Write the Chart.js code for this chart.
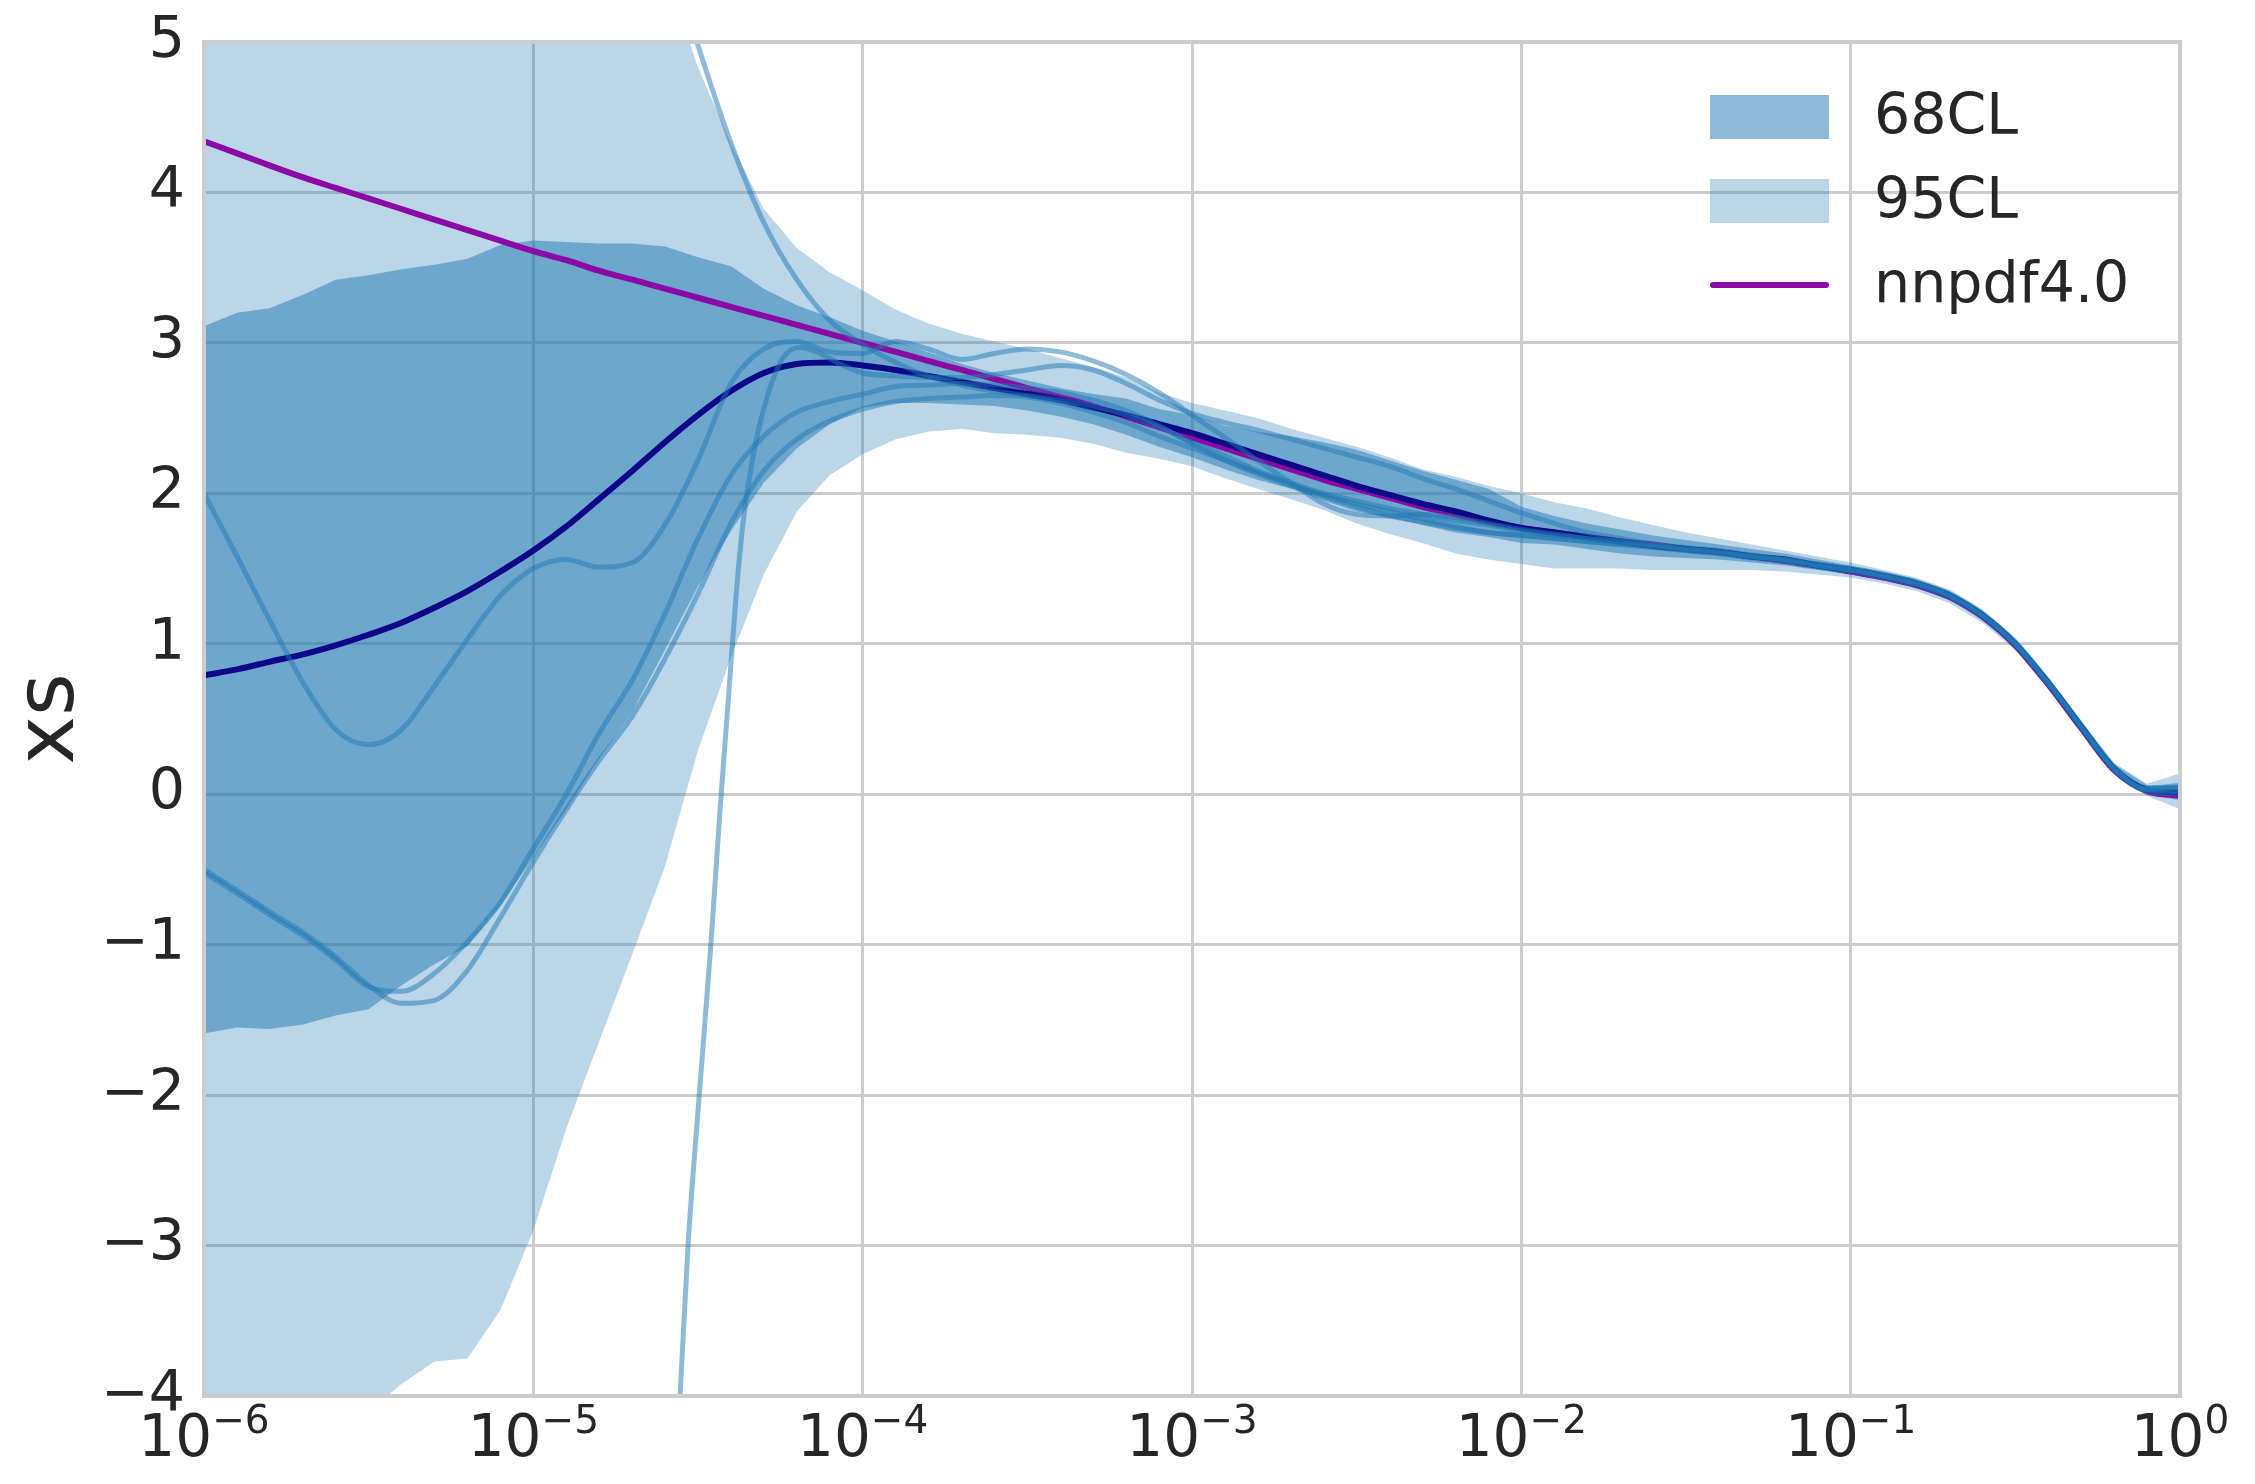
<!DOCTYPE html>
<html>
<head>
<meta charset="utf-8">
<title>xs</title>
<script src="https://cdn.jsdelivr.net/npm/chart.js@4.4.1/dist/chart.umd.min.js"></script>
<style>
  html, body { margin: 0; padding: 0; background: #ffffff; }
  canvas { display: block; }
</style>
</head>
<body>
<canvas id="xsChart" width="2255" height="1484"></canvas>
<script>
// x grid shared by the bands and the central curves (10 points per decade)
const xGrid = [
  1e-6, 1.26e-6, 1.58e-6, 2e-6, 2.51e-6, 3.16e-6, 3.98e-6, 5.01e-6, 6.31e-6, 7.94e-6,
  1e-5, 1.26e-5, 1.58e-5, 2e-5, 2.51e-5, 3.16e-5, 3.98e-5, 5.01e-5, 6.31e-5, 7.94e-5,
  1e-4, 1.26e-4, 1.58e-4, 2e-4, 2.51e-4, 3.16e-4, 3.98e-4, 5.01e-4, 6.31e-4, 7.94e-4,
  1e-3, 1.26e-3, 1.58e-3, 2e-3, 2.51e-3, 3.16e-3, 3.98e-3, 5.01e-3, 6.31e-3, 7.94e-3,
  1e-2, 1.26e-2, 1.58e-2, 2e-2, 2.51e-2, 3.16e-2, 3.98e-2, 5.01e-2, 6.31e-2, 7.94e-2,
  1e-1, 1.26e-1, 1.58e-1, 2e-1, 2.51e-1, 3.16e-1, 3.98e-1, 5.01e-1, 6.31e-1, 7.94e-1,
  1
];

const xTicks = [1e-6, 1e-5, 1e-4, 1e-3, 1e-2, 1e-1, 1];
const xTickExps = ['\u22126', '\u22125', '\u22124', '\u22123', '\u22122', '\u22121', '0'];
const yTicks = [-4, -3, -2, -1, 0, 1, 2, 3, 4, 5];

// 95% band
const upper95 = [
  5.5, 5.5, 5.5, 5.5, 5.5, 5.5, 5.5, 5.5, 5.5, 5.5,
  5.5, 5.5, 5.5, 5.5, 5.5, 4.83, 4.33, 3.89, 3.63, 3.47,
  3.35, 3.22, 3.13, 3.06, 3.01, 2.96, 2.90, 2.84, 2.77, 2.67,
  2.60, 2.55, 2.50, 2.43, 2.37, 2.31, 2.24, 2.16, 2.11, 2.05,
  2.00, 1.94, 1.90, 1.84, 1.79, 1.74, 1.70, 1.66, 1.62, 1.58,
  1.54, 1.49, 1.44, 1.36, 1.23, 1.04, 0.78, 0.49, 0.21, 0.07,
  0.14
];
const lower95 = [
  -4.6, -4.6, -4.5, -4.4, -4.3, -4.1, -3.92, -3.77, -3.75, -3.43,
  -2.90, -2.22, -1.65, -1.06, -0.48, 0.29, 0.91, 1.46, 1.88, 2.12,
  2.26, 2.36, 2.41, 2.43, 2.40, 2.39, 2.37, 2.33, 2.27, 2.23,
  2.18, 2.10, 2.03, 1.96, 1.89, 1.80, 1.73, 1.67, 1.60, 1.56,
  1.53, 1.50, 1.50, 1.50, 1.49, 1.49, 1.49, 1.49, 1.48, 1.46,
  1.44, 1.40, 1.35, 1.27, 1.14, 0.96, 0.70, 0.41, 0.13, -0.01,
  -0.10
];

// 68% band
const upper68 = [
  3.11, 3.20, 3.23, 3.32, 3.42, 3.45, 3.49, 3.52, 3.56, 3.65,
  3.68, 3.67, 3.66, 3.66, 3.64, 3.57, 3.51, 3.36, 3.25, 3.17,
  3.08, 3.01, 2.94, 2.86, 2.80, 2.75, 2.70, 2.66, 2.63, 2.56,
  2.52, 2.45, 2.41, 2.38, 2.34, 2.29, 2.22, 2.15, 2.09, 2.03,
  1.91, 1.85, 1.80, 1.76, 1.72, 1.69, 1.66, 1.63, 1.60, 1.56,
  1.52, 1.48, 1.43, 1.35, 1.22, 1.03, 0.77, 0.48, 0.20, 0.06,
  0.06
];
const lower68 = [
  -1.59, -1.55, -1.56, -1.53, -1.47, -1.43, -1.27, -1.13, -1.01, -0.74,
  -0.42, -0.10, 0.23, 0.55, 0.96, 1.38, 1.75, 2.07, 2.30, 2.46,
  2.57, 2.60, 2.60, 2.59, 2.58, 2.55, 2.51, 2.46, 2.39, 2.31,
  2.24, 2.16, 2.09, 2.03, 1.95, 1.88, 1.84, 1.79, 1.74, 1.71,
  1.67, 1.66, 1.63, 1.60, 1.58, 1.57, 1.56, 1.54, 1.52, 1.49,
  1.46, 1.42, 1.37, 1.29, 1.16, 0.97, 0.71, 0.42, 0.14, 0.00,
  -0.04
];

// reference fit
const nnpdf40 = [
  4.34, 4.26, 4.18, 4.10, 4.03, 3.96, 3.89, 3.82, 3.75, 3.68,
  3.61, 3.55, 3.48, 3.42, 3.36, 3.30, 3.24, 3.18, 3.12, 3.06,
  3.00, 2.94, 2.88, 2.82, 2.76, 2.70, 2.64, 2.58, 2.51, 2.44,
  2.37, 2.30, 2.23, 2.16, 2.09, 2.03, 1.97, 1.91, 1.86, 1.81,
  1.77, 1.74, 1.71, 1.68, 1.66, 1.63, 1.61, 1.58, 1.55, 1.52,
  1.48, 1.44, 1.39, 1.31, 1.18, 0.99, 0.73, 0.44, 0.16, 0.02,
  -0.01
];

// central value of the ensemble
const central = [
  0.79, 0.83, 0.88, 0.93, 0.99, 1.06, 1.14, 1.24, 1.35, 1.48,
  1.62, 1.78, 1.96, 2.15, 2.34, 2.52, 2.68, 2.80, 2.86, 2.87,
  2.85, 2.82, 2.78, 2.74, 2.70, 2.66, 2.62, 2.57, 2.52, 2.46,
  2.40, 2.33, 2.26, 2.19, 2.12, 2.05, 1.99, 1.93, 1.88, 1.82,
  1.77, 1.74, 1.71, 1.68, 1.65, 1.63, 1.61, 1.58, 1.56, 1.52,
  1.49, 1.45, 1.40, 1.32, 1.19, 1.00, 0.74, 0.45, 0.17, 0.03,
  0.01
];

// individual replicas
const replica1 = [
  2.00, 1.58, 1.16, 0.74, 0.43, 0.33, 0.43, 0.72, 1.03, 1.32,
  1.50, 1.56, 1.51, 1.54, 1.79, 2.22, 2.73, 2.96, 3.01, 2.94,
  2.93, 3.01, 2.96, 2.89, 2.93, 2.96, 2.94, 2.88, 2.79, 2.67,
  2.52, 2.37, 2.22, 2.07, 1.93, 1.86, 1.85, 1.86, 1.84, 1.80,
  1.76, 1.73, 1.70, 1.68, 1.66, 1.64, 1.62, 1.59, 1.56, 1.52,
  1.49, 1.45, 1.40, 1.32, 1.19, 1.00, 0.74, 0.45, 0.17, 0.04,
  0.06
];
const replica2 = [
  -0.50, -0.64, -0.78, -0.92, -1.08, -1.27, -1.39, -1.37, -1.17, -0.82,
  -0.45, -0.10, 0.22, 0.52, 0.90, 1.33, 1.80, 2.15, 2.36, 2.48,
  2.56, 2.61, 2.63, 2.64, 2.65, 2.64, 2.60, 2.54, 2.47, 2.38,
  2.30, 2.22, 2.14, 2.06, 1.98, 1.91, 1.85, 1.81, 1.77, 1.74,
  1.72, 1.70, 1.68, 1.66, 1.64, 1.62, 1.60, 1.58, 1.55, 1.52,
  1.49, 1.45, 1.40, 1.32, 1.19, 1.00, 0.74, 0.45, 0.17, 0.03,
  0.02
];
const replica3 = [
  -0.52, -0.66, -0.80, -0.94, -1.10, -1.28, -1.31, -1.19, -0.98, -0.72,
  -0.36, 0.00, 0.40, 0.76, 1.20, 1.70, 2.12, 2.38, 2.54, 2.61,
  2.66, 2.71, 2.72, 2.73, 2.72, 2.70, 2.67, 2.62, 2.55, 2.45,
  2.33, 2.22, 2.13, 2.05, 1.99, 1.93, 1.88, 1.83, 1.78, 1.74,
  1.72, 1.70, 1.68, 1.66, 1.65, 1.63, 1.61, 1.58, 1.56, 1.53,
  1.50, 1.46, 1.41, 1.33, 1.20, 1.01, 0.75, 0.46, 0.18, 0.04,
  0.04
];
// starts at xGrid[14], comes down from above the frame
const replica4 = [
  5.70, 4.98, 4.33, 3.80, 3.42, 3.15,
  2.99, 2.87, 2.78, 2.72, 2.68, 2.65, 2.62, 2.58, 2.52, 2.44,
  2.34, 2.25, 2.15, 2.07, 2.00, 1.95, 1.90, 1.86, 1.82, 1.79,
  1.75, 1.72, 1.70, 1.67, 1.65, 1.62, 1.60, 1.57, 1.55, 1.51,
  1.48, 1.44, 1.39, 1.31, 1.18, 0.99, 0.73, 0.44, 0.16, 0.02,
  0.00
];
// steep rise from below the frame, then xGrid from 1e-4 on
const replica5X = [
  2.64e-5, 2.79e-5, 2.95e-5, 3.19e-5, 3.46e-5, 3.69e-5, 3.90e-5, 4.12e-5,
  4.33e-5, 4.65e-5, 5.13e-5, 5.73e-5, 6.45e-5, 7.27e-5, 8.53e-5
];
const replica5 = [
  -5.0, -4.0, -3.0, -2.0, -1.0, -0.1, 0.6, 1.3, 1.8, 2.25, 2.64, 2.90, 2.97, 2.94, 2.86,
  2.80, 2.78, 2.77, 2.77, 2.79, 2.82, 2.85, 2.82, 2.73, 2.62,
  2.53, 2.47, 2.42, 2.36, 2.30, 2.24, 2.18, 2.10, 2.03, 1.95,
  1.87, 1.80, 1.74, 1.70, 1.66, 1.63, 1.61, 1.58, 1.56, 1.52,
  1.49, 1.45, 1.40, 1.32, 1.19, 1.00, 0.74, 0.45, 0.17, 0.03,
  0.05
];

const TEXT = '#262626';
const GRID = '#cccccc';
const FONT = 'DejaVu Sans';
const FILL68 = 'rgba(31, 119, 180, 0.5)';
const FILL95 = 'rgba(31, 119, 180, 0.3)';
const REPLICA = 'rgba(31, 119, 180, 0.5)';
const PURPLE = '#8b0aa5';
const NAVY = '#0d0887';

function toPoints(xs, ys) {
  return ys.map((y, i) => ({ x: xs[i], y: y }));
}

function band(label, values, fill, color, order) {
  return {
    label: label,
    data: toPoints(xGrid, values),
    borderWidth: 0,
    pointRadius: 0,
    tension: 0,
    fill: fill,
    backgroundColor: color,
    order: order,
    clip: 0
  };
}

function curve(label, xs, values, color, width, order) {
  return {
    label: label,
    data: toPoints(xs, values),
    borderColor: color,
    borderWidth: width,
    pointRadius: 0,
    fill: false,
    cubicInterpolationMode: 'monotone',
    order: order,
    clip: 0
  };
}

// lower order is drawn on top
const datasets = [
  band('95CL', upper95, '+1', FILL95, 20),
  band('95CL lower', lower95, false, FILL95, 20),
  band('68CL', upper68, '+1', FILL68, 19),
  band('68CL lower', lower68, false, FILL68, 19),
  curve('nnpdf4.0', xGrid, nnpdf40, PURPLE, 6, 12),
  curve('central', xGrid, central, NAVY, 6, 11),
  curve('replica 1', xGrid, replica1, REPLICA, 5, 5),
  curve('replica 2', xGrid, replica2, REPLICA, 5, 4),
  curve('replica 3', xGrid, replica3, REPLICA, 5, 3),
  curve('replica 4', xGrid.slice(14), replica4, REPLICA, 5, 2),
  curve('replica 5', replica5X.concat(xGrid.slice(20)), replica5, REPLICA, 5, 1)
];

// frame, axis title, decade labels and legend
const decorations = {
  id: 'decorations',
  afterDatasetsDraw(chart) {
    const { ctx, chartArea: a } = chart;
    ctx.save();
    ctx.strokeStyle = GRID;
    ctx.lineWidth = 4;
    ctx.strokeRect(a.left, a.top, a.right - a.left, a.bottom - a.top);
    ctx.restore();
  },
  afterDraw(chart) {
    const { ctx, chartArea: a, scales } = chart;
    ctx.save();
    ctx.fillStyle = TEXT;

    // x tick labels as 10 with a raised exponent
    ctx.textAlign = 'left';
    ctx.textBaseline = 'alphabetic';
    xTicks.forEach((v, i) => {
      const px = scales.x.getPixelForValue(v);
      ctx.font = `58px '${FONT}'`;
      const wBase = ctx.measureText('10').width;
      ctx.font = `39px '${FONT}'`;
      const wExp = ctx.measureText(xTickExps[i]).width;
      const left = px - (wBase + wExp) / 2;
      ctx.font = `58px '${FONT}'`;
      ctx.fillText('10', left, a.bottom + 60);
      ctx.font = `39px '${FONT}'`;
      ctx.fillText(xTickExps[i], left + wBase, a.bottom + 37);
    });

    // y axis title
    ctx.save();
    ctx.translate(73, (a.top + a.bottom) / 2);
    ctx.rotate(-Math.PI / 2);
    ctx.textAlign = 'center';
    ctx.font = `82px '${FONT}'`;
    ctx.fillText('xs', 0, 0);
    ctx.restore();

    // legend
    const x0 = a.right - 470;
    const rows = [
      { label: '68CL', patch: FILL68, dy: 75 },
      { label: '95CL', patch: FILL95, dy: 159 },
      { label: 'nnpdf4.0', line: PURPLE, dy: 243 }
    ];
    ctx.textBaseline = 'middle';
    ctx.font = `57px '${FONT}'`;
    rows.forEach(r => {
      const cy = a.top + r.dy;
      if (r.patch) {
        ctx.fillStyle = r.patch;
        ctx.fillRect(x0, cy - 22, 119, 44);
      } else {
        ctx.strokeStyle = r.line;
        ctx.lineWidth = 6;
        ctx.lineCap = 'round';
        ctx.beginPath();
        ctx.moveTo(x0 + 3, cy);
        ctx.lineTo(x0 + 116, cy);
        ctx.stroke();
      }
      ctx.fillStyle = TEXT;
      ctx.fillText(r.label, x0 + 164, cy + 2);
    });
    ctx.restore();
  }
};

new Chart(document.getElementById('xsChart'), {
  type: 'line',
  data: { datasets: datasets },
  options: {
    responsive: false,
    animation: false,
    devicePixelRatio: 1,
    layout: { padding: { left: 0, top: 42, right: 75, bottom: 0 } },
    plugins: {
      legend: { display: false },
      tooltip: { enabled: false }
    },
    scales: {
      x: {
        type: 'logarithmic',
        min: 1e-6,
        max: 1,
        afterBuildTicks(scale) {
          scale.ticks = xTicks.map(v => ({ value: v }));
        },
        ticks: { display: false },
        grid: { color: GRID, lineWidth: 3, drawTicks: false },
        border: { display: false },
        afterFit(scale) { scale.height = 88; }
      },
      y: {
        type: 'linear',
        min: -4,
        max: 5,
        afterBuildTicks(scale) {
          scale.ticks = yTicks.map(v => ({ value: v }));
        },
        ticks: {
          color: TEXT,
          padding: 19,
          // small line height keeps the top label from pushing the plot down
          font: { family: FONT, size: 57, lineHeight: 0.8 },
          callback: v => (v < 0 ? '\u2212' + Math.abs(v) : String(v))
        },
        grid: { color: GRID, lineWidth: 3, drawTicks: false },
        border: { display: false },
        afterFit(scale) { scale.width = 204; }
      }
    }
  },
  plugins: [decorations]
});
</script>
</body>
</html>
